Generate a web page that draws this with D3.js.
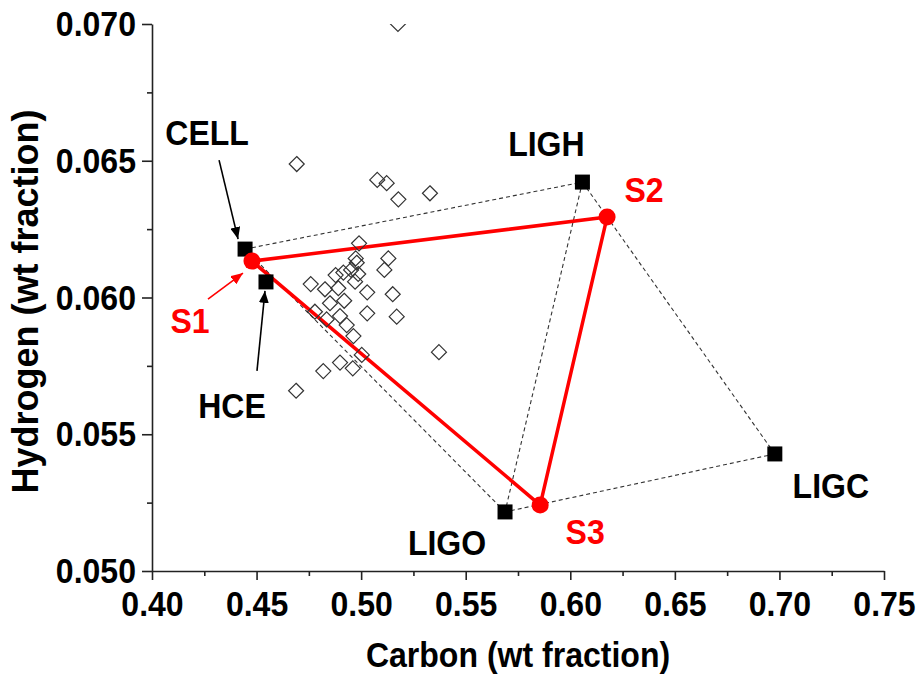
<!DOCTYPE html>
<html>
<head>
<meta charset="utf-8">
<script src="https://cdn.jsdelivr.net/npm/d3@7"></script>
<style>
  body { margin: 0; background: #ffffff; }
  svg text {
    font-family: "Liberation Sans", Arial, sans-serif;
    font-weight: bold;
  }
</style>
</head>
<body>
<svg id="chart" width="920" height="677"></svg>
<script>
// Elemental composition of biomass samples (mass fractions)
const sampleC = [0.4692, 0.5077, 0.5122, 0.5178, 0.5329, 0.4990, 0.4974, 0.4979, 0.5130, 0.5111,
                 0.4878, 0.4915, 0.4952, 0.4986, 0.4971, 0.4759, 0.4827, 0.4891, 0.5029, 0.5151,
                 0.4851, 0.4919, 0.4779, 0.4835, 0.4899, 0.5029, 0.5170, 0.4931, 0.4963, 0.5003,
                 0.5372, 0.4899, 0.4960, 0.4819, 0.4689, 0.5176];
const sampleH = [0.06488, 0.06430, 0.06418, 0.06359, 0.06381, 0.06198, 0.06143, 0.06127, 0.06143, 0.06101,
                 0.06082, 0.06091, 0.06101, 0.06086, 0.06058, 0.06049, 0.06030, 0.06034, 0.06019, 0.06012,
                 0.05979, 0.05988, 0.05948, 0.05920, 0.05932, 0.05942, 0.05930, 0.05899, 0.05859, 0.05790,
                 0.05800, 0.05762, 0.05741, 0.05731, 0.05659, 0.07000];

// Reference components
const refNames = ["CELL", "HCE", "LIGH", "LIGO", "LIGC"];
const refC = [0.4445, 0.4545, 0.6058, 0.5688, 0.6978];
const refH = [0.06177, 0.06057, 0.06422, 0.05216, 0.05428];

// Reference mixtures
const mixNames = ["S1", "S2", "S3"];
const mixC = [0.4478, 0.6176, 0.5856];
const mixH = [0.06133, 0.06294, 0.05241];

// Dashed edges between reference components
const edgeFrom = ["CELL", "LIGH", "LIGC", "LIGO", "LIGH"];
const edgeTo   = ["LIGH", "LIGC", "LIGO", "CELL", "LIGO"];

// Axis ticks
const xTicks = [0.40, 0.45, 0.50, 0.55, 0.60, 0.65, 0.70, 0.75];
const xMinor = [0.425, 0.475, 0.525, 0.575, 0.625, 0.675, 0.725];
const yTicks = [0.050, 0.055, 0.060, 0.065, 0.070];
const yMinor = [0.0525, 0.0575, 0.0625, 0.0675];

const svg = d3.select("#chart");
svg.append("rect").attr("width", 920).attr("height", 677).attr("fill", "#fff");

const plotLeft = 152, plotRight = 884, plotTop = 24, plotBottom = 571;
const x = d3.scaleLinear().domain([0.40, 0.75]).range([plotLeft, plotRight]);
const y = d3.scaleLinear().domain([0.050, 0.070]).range([plotBottom, plotTop]);

const refPos = {};
refNames.forEach((n, i) => refPos[n] = [x(refC[i]), y(refH[i])]);
const mixPos = {};
mixNames.forEach((n, i) => mixPos[n] = [x(mixC[i]), y(mixH[i])]);

svg.append("clipPath").attr("id", "plotClip")
  .append("rect").attr("x", plotLeft).attr("y", plotTop)
  .attr("width", plotRight - plotLeft).attr("height", plotBottom - plotTop);

const axisColor = "#222";
const tickFont = 36;

// X axis
const gx = svg.append("g").attr("transform", `translate(0,${plotBottom})`);
gx.call(d3.axisBottom(x).tickValues(xTicks).tickSize(9).tickSizeOuter(0).tickPadding(10)
  .tickFormat(d3.format(".2f")));
gx.append("g").call(d3.axisBottom(x).tickValues(xMinor).tickSize(5).tickFormat(""))
  .select(".domain").remove();
gx.selectAll("path, line").attr("stroke", axisColor).attr("stroke-width", 1.6);
gx.selectAll(".tick text").attr("font-size", tickFont).attr("fill", "#000");

// Y axis
const gy = svg.append("g").attr("transform", `translate(${plotLeft},0)`);
gy.call(d3.axisLeft(y).tickValues(yTicks).tickSize(10).tickSizeOuter(0).tickPadding(6)
  .tickFormat(d3.format(".3f")));
gy.append("g").call(d3.axisLeft(y).tickValues(yMinor).tickSize(5).tickFormat(""))
  .select(".domain").remove();
gy.selectAll("path, line").attr("stroke", axisColor).attr("stroke-width", 1.6);
gy.selectAll(".tick text").attr("font-size", tickFont).attr("fill", "#000");

// Axis titles
svg.append("text")
  .attr("x", (plotLeft + plotRight) / 2).attr("y", 667)
  .attr("text-anchor", "middle").attr("font-size", 36).attr("fill", "#000")
  .text("Carbon (wt fraction)");
svg.append("text")
  .attr("class", "vertical")
  .attr("transform", `translate(38,${(plotTop + plotBottom) / 2 + 4}) rotate(-90)`)
  .attr("text-anchor", "middle").attr("font-size", 36).attr("fill", "#000")
  .text("Hydrogen (wt fraction)");

const plot = svg.append("g").attr("clip-path", "url(#plotClip)");

// Dashed hull of reference components
plot.append("g").selectAll("line")
  .data(edgeFrom.map((f, i) => [refPos[f], refPos[edgeTo[i]]]))
  .join("line")
  .attr("x1", d => d[0][0]).attr("y1", d => d[0][1])
  .attr("x2", d => d[1][0]).attr("y2", d => d[1][1])
  .attr("stroke", "#333").attr("stroke-width", 1.1).attr("stroke-dasharray", "4,3");

// Triangle spanned by the reference mixtures
plot.append("path")
  .attr("d", d3.line()(mixNames.map(n => mixPos[n])) + "Z")
  .attr("fill", "none").attr("stroke", "#ff0000").attr("stroke-width", 3.5)
  .attr("stroke-linejoin", "round");

// Reference component markers
plot.append("g").selectAll("rect")
  .data(refNames)
  .join("rect")
  .attr("x", d => refPos[d][0] - 7.5).attr("y", d => refPos[d][1] - 7.5)
  .attr("width", 15).attr("height", 15).attr("fill", "#000");

// Reference mixture markers
plot.append("g").selectAll("circle")
  .data(mixNames)
  .join("circle")
  .attr("cx", d => mixPos[d][0]).attr("cy", d => mixPos[d][1])
  .attr("r", 8.5).attr("fill", "#ff0000");

// Biomass samples (open diamonds)
plot.append("g").selectAll("path")
  .data(sampleC.map((c, i) => [x(c), y(sampleH[i])]))
  .join("path")
  .attr("d", d => `M${d[0]},${d[1] - 7.5}L${d[0] + 7.5},${d[1]}L${d[0]},${d[1] + 7.5}L${d[0] - 7.5},${d[1]}Z`)
  .attr("fill", "none").attr("stroke", "#333").attr("stroke-width", 1.2);

// Arrow heads
const defs = svg.append("defs");
[["arrowBlack", "#000"], ["arrowRed", "#ff0000"]].forEach(([id, col]) => {
  defs.append("marker").attr("id", id)
    .attr("viewBox", "0 0 12 10").attr("refX", 12).attr("refY", 5)
    .attr("markerWidth", 12).attr("markerHeight", 10).attr("markerUnits", "userSpaceOnUse")
    .attr("orient", "auto")
    .append("path").attr("d", "M0,0L12,5L0,10Z").attr("fill", col);
});

// Pointer arrows: anchor point, tip offset, tail offset (px)
const arrows = [
  { at: refPos.CELL, tip: [-7, -10], tail: [-26, -89], color: "#000", marker: "arrowBlack" },
  { at: refPos.HCE,  tip: [-1, 9],   tail: [-9, 89],   color: "#000", marker: "arrowBlack" },
  { at: mixPos.S1,   tip: [-9, 12],  tail: [-44, 38],  color: "#ff0000", marker: "arrowRed" }
];
svg.append("g").selectAll("line")
  .data(arrows)
  .join("line")
  .attr("x1", d => d.at[0] + d.tail[0]).attr("y1", d => d.at[1] + d.tail[1])
  .attr("x2", d => d.at[0] + d.tip[0]).attr("y2", d => d.at[1] + d.tip[1])
  .attr("stroke", d => d.color).attr("stroke-width", 1.6)
  .attr("marker-end", d => `url(#${d.marker})`);

// Point labels: offsets of the label baseline centre from its marker
const refLabelDx = [-38, -34, -36, -58, 56];
const refLabelDy = [-104, 136, -26, 43, 44];
const mixLabelDx = [-62, 37, 45];
const mixLabelDy = [72, -15, 39];

svg.append("g").selectAll("text")
  .data(refNames)
  .join("text")
  .attr("x", (d, i) => refPos[d][0] + refLabelDx[i])
  .attr("y", (d, i) => refPos[d][1] + refLabelDy[i])
  .attr("text-anchor", "middle").attr("font-size", 36).attr("fill", "#000")
  .text(d => d);

svg.append("g").selectAll("text")
  .data(mixNames)
  .join("text")
  .attr("x", (d, i) => mixPos[d][0] + mixLabelDx[i])
  .attr("y", (d, i) => mixPos[d][1] + mixLabelDy[i])
  .attr("text-anchor", "middle").attr("font-size", 36).attr("fill", "#ff0000")
  .text(d => d);

// Condensed lettering: squeeze horizontal labels about their anchor point
const condense = 0.89;
svg.selectAll("text:not(.vertical)").each(function () {
  const t = d3.select(this);
  const tx = +t.attr("x") || 0, ty = +t.attr("y") || 0;
  t.attr("x", 0).attr("y", 0)
   .attr("transform", `translate(${tx},${ty}) scale(${condense},1)`);
});
</script>
</body>
</html>
